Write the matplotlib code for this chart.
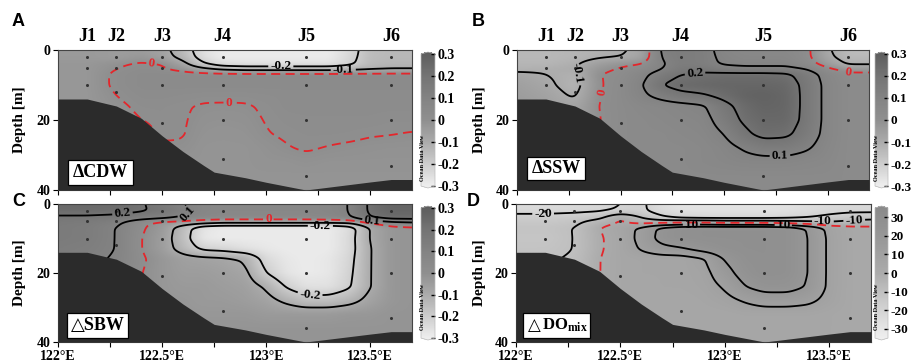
import numpy as np
import matplotlib
matplotlib.use("Agg")
import matplotlib.pyplot as plt
from matplotlib.colors import LinearSegmentedColormap, Normalize
from matplotlib.cm import ScalarMappable
from matplotlib.patches import Rectangle

plt.rcParams['font.family'] = ['Liberation Serif', 'DejaVu Serif']
plt.rcParams['font.weight'] = 'bold'
plt.rcParams['mathtext.fontset'] = 'custom'
plt.rcParams['mathtext.rm'] = 'Liberation Serif:bold'
plt.rcParams['mathtext.it'] = 'Liberation Serif:bold'
plt.rcParams['mathtext.bf'] = 'Liberation Serif:bold'

# ---------------- data ----------------
stations = ['J1', 'J2', 'J3', 'J4', 'J5', 'J6']
station_lon = [122.14, 122.28, 122.50, 122.79, 123.19, 123.60]
sample_depths = [[2, 5, 10], [2, 5, 12], [2, 5, 10, 21], [2, 10, 20, 31],
                 [2, 10, 20, 36], [2, 10, 20, 33]]

bathy_lon = [122.0, 122.14, 122.28, 122.4, 122.5, 122.6, 122.7, 122.75, 122.9, 123.0, 123.19, 123.5, 123.6, 123.7]
bathy_depth = [14, 14, 16, 19.5, 24.5, 29, 33, 34.9, 36.5, 37.8, 40, 37.7, 37, 37]

grid_lon = [122.0, 122.14, 122.28, 122.4, 122.5, 122.6, 122.7, 122.79, 122.9,
            123.0, 123.1, 123.19, 123.3, 123.4, 123.5, 123.6, 123.7]
grid_depth = [0, 2, 4, 5.5, 7, 10, 13, 16, 20, 24, 28, 32, 36, 40]

cdw = [
    [-0.04, -0.04, -0.05, -0.05, -0.07, -0.15, -0.26, -0.29, -0.29, -0.29, -0.29, -0.29, -0.29, -0.24, -0.15, -0.14, -0.14],
    [-0.04, -0.04, -0.05, -0.03, -0.06, -0.13, -0.25, -0.29, -0.29, -0.29, -0.29, -0.29, -0.29, -0.23, -0.15, -0.14, -0.14],
    [-0.03, -0.03, -0.01, 0.01, 0.00, -0.07, -0.19, -0.25, -0.26, -0.26, -0.26, -0.26, -0.26, -0.22, -0.14, -0.13, -0.13],
    [-0.03, -0.03, 0.00, 0.02, 0.01, -0.02, -0.07, -0.11, -0.13, -0.13, -0.13, -0.13, -0.13, -0.12, -0.11, -0.10, -0.10],
    [-0.03, -0.03, 0.01, 0.03, 0.03, 0.03, 0.03, 0.03, 0.03, 0.03, 0.03, 0.03, 0.03, 0.03, 0.03, 0.03, 0.03],
    [-0.03, -0.03, 0.01, 0.03, 0.03, 0.03, 0.03, 0.03, 0.03, 0.03, 0.03, 0.03, 0.03, 0.03, 0.03, 0.03, 0.03],
    [-0.03, -0.03, 0.00, 0.02, 0.02, 0.015, 0.01, 0.01, 0.01, 0.015, 0.02, 0.02, 0.02, 0.02, 0.02, 0.02, 0.02],
    [-0.03, -0.03, -0.01, 0.01, 0.01, 0.004, -0.004, -0.005, -0.004, 0.006, 0.02, 0.02, 0.02, 0.02, 0.02, 0.02, 0.02],
    [-0.03, -0.03, -0.02, 0.00, 0.01, 0.003, -0.01, -0.012, -0.01, 0.002, 0.012, 0.015, 0.015, 0.015, 0.015, 0.01, 0.01],
    [-0.03, -0.03, -0.03, -0.02, 0.01, 0.002, -0.015, -0.018, -0.015, -0.002, 0.005, 0.01, 0.01, 0.008, 0.003, 0.001, -0.002],
    [-0.03, -0.03, -0.03, -0.02, -0.01, -0.005, -0.02, -0.02, -0.02, -0.012, -0.002, 0.004, -0.002, -0.006, -0.01, -0.012, -0.012],
    [-0.03, -0.03, -0.03, -0.02, -0.02, -0.02, -0.02, -0.02, -0.02, -0.015, -0.015, -0.01, -0.015, -0.015, -0.015, -0.015, -0.015],
    [-0.03, -0.03, -0.03, -0.02, -0.02, -0.02, -0.02, -0.02, -0.02, -0.02, -0.02, -0.02, -0.02, -0.02, -0.02, -0.02, -0.02],
    [-0.03, -0.03, -0.03, -0.02, -0.02, -0.02, -0.02, -0.02, -0.02, -0.02, -0.02, -0.02, -0.02, -0.02, -0.02, -0.02, -0.02],
]

ssw = [
    [-0.14, -0.14, -0.13, -0.12, -0.11, -0.08, 0.12, 0.14, 0.13, 0.07, 0.05, 0.05, 0.05, 0.02, -0.09, -0.15, -0.15],
    [-0.14, -0.14, -0.13, -0.11, -0.10, -0.07, 0.11, 0.14, 0.13, 0.08, 0.06, 0.06, 0.06, 0.02, -0.08, -0.14, -0.14],
    [-0.13, -0.13, -0.11, -0.05, -0.02, 0.00, 0.09, 0.14, 0.13, 0.09, 0.08, 0.08, 0.08, 0.04, -0.04, -0.11, -0.11],
    [-0.12, -0.11, -0.10, -0.02, 0.01, 0.04, 0.10, 0.16, 0.17, 0.14, 0.13, 0.13, 0.13, 0.10, 0.02, -0.03, -0.03],
    [-0.08, -0.10, -0.12, 0.00, 0.02, 0.07, 0.15, 0.20, 0.22, 0.23, 0.23, 0.23, 0.22, 0.15, 0.06, 0.02, 0.02],
    [-0.06, -0.085, -0.13, -0.005, 0.03, 0.09, 0.20, 0.24, 0.25, 0.26, 0.26, 0.26, 0.25, 0.17, 0.07, 0.03, 0.03],
    [-0.05, -0.07, -0.11, 0.00, 0.03, 0.08, 0.13, 0.17, 0.19, 0.23, 0.27, 0.28, 0.26, 0.17, 0.07, 0.03, 0.03],
    [-0.04, -0.06, -0.08, 0.005, 0.03, 0.05, 0.06, 0.07, 0.09, 0.17, 0.24, 0.27, 0.26, 0.17, 0.07, 0.03, 0.03],
    [-0.04, -0.05, -0.07, 0.00, 0.03, 0.04, 0.05, 0.06, 0.07, 0.14, 0.22, 0.25, 0.25, 0.17, 0.07, 0.03, 0.03],
    [-0.03, -0.04, -0.05, 0.01, 0.03, 0.04, 0.04, 0.05, 0.06, 0.10, 0.18, 0.23, 0.22, 0.15, 0.07, 0.03, 0.03],
    [-0.02, -0.03, -0.03, 0.02, 0.03, 0.04, 0.04, 0.04, 0.05, 0.07, 0.11, 0.14, 0.14, 0.11, 0.06, 0.03, 0.03],
    [0.00, 0.00, 0.01, 0.03, 0.04, 0.04, 0.04, 0.04, 0.05, 0.06, 0.07, 0.07, 0.07, 0.06, 0.05, 0.03, 0.03],
    [0.03, 0.03, 0.03, 0.04, 0.04, 0.04, 0.04, 0.04, 0.04, 0.04, 0.04, 0.04, 0.04, 0.04, 0.04, 0.03, 0.03],
    [0.03, 0.03, 0.03, 0.04, 0.04, 0.04, 0.04, 0.04, 0.04, 0.04, 0.04, 0.04, 0.04, 0.04, 0.04, 0.03, 0.03],
]

sbw = [
    [0.25, 0.25, 0.24, 0.21, 0.16, 0.10, 0.07, 0.06, 0.06, 0.06, 0.06, 0.06, 0.07, 0.10, 0.22, 0.27, 0.27],
    [0.24, 0.24, 0.23, 0.21, 0.18, 0.12, 0.07, 0.06, 0.06, 0.06, 0.06, 0.06, 0.07, 0.10, 0.22, 0.26, 0.26],
    [0.18, 0.18, 0.17, 0.14, 0.12, 0.09, 0.06, 0.05, 0.05, 0.05, 0.05, 0.05, 0.06, 0.09, 0.20, 0.24, 0.24],
    [0.16, 0.15, 0.12, 0.02, -0.03, -0.05, -0.08, -0.10, -0.10, -0.10, -0.10, -0.10, -0.10, -0.10, 0.00, 0.06, 0.08],
    [0.15, 0.14, 0.10, 0.01, -0.04, -0.15, -0.27, -0.29, -0.29, -0.29, -0.29, -0.29, -0.29, -0.25, -0.09, -0.03, -0.02],
    [0.15, 0.14, 0.10, 0.00, -0.05, -0.16, -0.28, -0.29, -0.29, -0.29, -0.29, -0.29, -0.29, -0.24, -0.09, -0.03, -0.02],
    [0.14, 0.13, 0.10, 0.00, -0.05, -0.14, -0.22, -0.23, -0.26, -0.28, -0.29, -0.29, -0.29, -0.24, -0.10, -0.03, -0.02],
    [0.13, 0.12, 0.09, 0.01, -0.03, -0.06, -0.07, -0.08, -0.11, -0.24, -0.28, -0.29, -0.28, -0.23, -0.10, -0.03, -0.02],
    [0.12, 0.11, 0.08, 0.00, -0.03, -0.05, -0.05, -0.06, -0.08, -0.20, -0.27, -0.29, -0.28, -0.22, -0.10, -0.03, -0.02],
    [0.10, 0.10, 0.06, 0.00, -0.03, -0.04, -0.04, -0.05, -0.06, -0.11, -0.21, -0.26, -0.26, -0.21, -0.10, -0.03, -0.02],
    [0.08, 0.08, 0.05, -0.01, -0.03, -0.03, -0.04, -0.04, -0.05, -0.07, -0.12, -0.16, -0.16, -0.13, -0.07, -0.03, -0.02],
    [0.06, 0.06, 0.04, -0.01, -0.03, -0.03, -0.03, -0.03, -0.03, -0.04, -0.04, -0.04, -0.04, -0.03, -0.03, -0.02, -0.02],
    [0.05, 0.05, 0.03, -0.01, -0.02, -0.02, -0.02, -0.02, -0.02, -0.02, -0.02, -0.02, -0.02, -0.02, -0.02, -0.02, -0.02],
    [0.05, 0.05, 0.03, -0.01, -0.02, -0.02, -0.02, -0.02, -0.02, -0.02, -0.02, -0.02, -0.02, -0.02, -0.02, -0.02, -0.02],
]

domix = [
    [-24, -24, -23, -22, -20, -18, -26, -29, -29, -29, -29, -29, -28, -26, -24, -23, -23],
    [-23, -23, -22, -21, -19, -18, -25, -28, -28, -28, -28, -28, -27, -25, -23, -22, -22],
    [-16, -16, -15, -12, 1, -10, -18, -22, -23, -23, -23, -23, -22, -20, -17, -14, -13],
    [-14, -14, -12, -4, 1, -2, 0, 2, 2, 0, 0, 0, -2, -5, -8, -6, -4],
    [-12, -12, -10, 0, 5, 12, 23, 27, 28, 28, 28, 28, 27, 19, 7, 3, 2],
    [-13, -13, -10, -1, 4, 13, 24, 27, 28, 28, 28, 28, 27, 20, 8, 3, 2],
    [-12, -12, -10, -1, 4, 11, 17, 19, 24, 27, 28, 28, 27, 20, 8, 3, 2],
    [-11, -11, -9, 0, 4, 5, 5, 5, 9, 21, 27, 28, 27, 20, 8, 3, 2],
    [-10, -10, -8, 0, 4, 5, 5, 5, 7, 16, 25, 28, 27, 20, 8, 3, 2],
    [-9, -9, -7, 1, 4, 4, 5, 5, 6, 11, 20, 24, 24, 19, 8, 3, 2],
    [-8, -8, -6, 2, 4, 4, 4, 4, 5, 7, 11, 14, 14, 12, 7, 3, 2],
    [-6, -6, -4, 2, 4, 4, 4, 4, 4, 4, 5, 5, 5, 5, 4, 3, 2],
    [-6, -6, -4, 2, 4, 4, 4, 4, 4, 4, 4, 4, 4, 4, 4, 3, 2],
    [-6, -6, -4, 2, 4, 4, 4, 4, 4, 4, 4, 4, 4, 4, 4, 3, 2],
]

cbar_ticks_abc = [-0.3, -0.2, -0.1, 0, 0.1, 0.2, 0.3]
cbar_labels_abc = ['-0.3', '-0.2', '-0.1', '0', '0.1', '0.2', '0.3']
cbar_ticks_d = [-30, -20, -10, 0, 10, 20, 30]
cbar_labels_d = ['-30', '-20', '-10', '0', '10', '20', '30']
xtick_values = [122.0, 122.25, 122.5, 122.75, 123.0, 123.25, 123.5]
xtick_labels = ['122°E', '', '122.5°E', '', '123°E', '', '123.5°E']
ytick_values = [0, 20, 40]

# ---------------- helpers ----------------
flon = np.linspace(122.0, 123.7, 341)
fdep = np.linspace(0, 40, 401)


def upsample(grid):
    g = np.asarray(grid, float)
    tmp = np.array([np.interp(flon, grid_lon, row) for row in g])
    out = np.array([np.interp(fdep, grid_depth, tmp[:, j]) for j in range(tmp.shape[1])]).T
    return out


def blur(a, sx, sy):
    def kern(s):
        r = int(3 * s) + 1
        x = np.arange(-r, r + 1)
        w = np.exp(-0.5 * (x / s) ** 2)
        return w / w.sum(), r
    kx, rx = kern(sx)
    a = np.pad(a, ((0, 0), (rx, rx)), mode='edge')
    a = np.apply_along_axis(lambda r: np.convolve(r, kx, mode='valid'), 1, a)
    ky, ry = kern(sy)
    a = np.pad(a, ((ry, ry), (0, 0)), mode='edge')
    a = np.apply_along_axis(lambda c: np.convolve(c, ky, mode='valid'), 0, a)
    return a


cmap_abc = LinearSegmentedColormap.from_list('odv_abc', [
    (0.0, '#eeeeee'), (1 / 6, '#cdcdcd'), (2 / 6, '#ababab'), (0.5, '#8f8f8f'),
    (4 / 6, '#838383'), (5 / 6, '#747474'), (1.0, '#5e5e5e')])
cmap_d = LinearSegmentedColormap.from_list('odv_d', [
    (0.0, '#efefef'), (0.25, '#cfcfcf'), (0.5, '#ababab'), (0.75, '#999999'), (1.0, '#8a8a8a')])

W, H = 914, 363
fig = plt.figure(figsize=(W / 100, H / 100), dpi=100)


def px_axes(l, t, r, b):
    return fig.add_axes([l / W, 1 - b / H, (r - l) / W, (b - t) / H])


def px_box(l, t, r, b):
    fig.add_artist(Rectangle((l / W, 1 - b / H), (r - l) / W, (b - t) / H, transform=fig.transFigure,
                             fc='white', ec='black', lw=0.9, zorder=5))


panels = [
    dict(grid=cdw, ax=(58, 50, 412, 190), cb=(421, 52, 435, 188), cmap=cmap_abc, vmin=-0.3, vmax=0.3,
         levels=[-0.2, -0.1], ticks=cbar_ticks_abc, tlabels=cbar_labels_abc, cbfs=10,
         blab=[(123.07, 4.6), (123.37, 5.8)], rlab=[(122.45, 3.6), (122.82, 15.6)],
         legend='ΔCDW', box=(68, 160, 133, 185), letter='A', lxy=(12, 22), jl=True, xl=False, ylx=20,
         odv=(423, 158)),
    dict(grid=ssw, ax=(517, 50, 869, 190), cb=(875, 52, 888, 188), cmap=cmap_abc, vmin=-0.3, vmax=0.3,
         levels=[-0.1, 0.1, 0.2], ticks=cbar_ticks_abc, tlabels=cbar_labels_abc, cbfs=9.5,
         blab=[(122.26, 8.0), (122.86, 6.8), (123.27, 30.4)], rlab=[(122.41, 12.0), (123.6, 6.4)],
         legend='ΔSSW', box=(527, 157, 585, 180), letter='B', lxy=(472, 22), jl=True, xl=False, ylx=479,
         odv=(877, 158)),
    dict(grid=sbw, ax=(58, 204, 412, 342), cb=(421, 206, 435, 340), cmap=cmap_abc, vmin=-0.3, vmax=0.3,
         levels=[-0.2, -0.1, 0.1, 0.2], ticks=cbar_ticks_abc, tlabels=cbar_labels_abc, cbfs=10,
         blab=[(122.31, 3.0), (122.63, 3.6), (123.26, 6.0), (123.51, 5.0), (123.21, 26.4)], rlab=[(123.01, 5.3)],
         legend='△SBW', box=(67, 313, 128, 338), letter='C', lxy=(12, 201), jl=False, xl=True, ylx=20,
         odv=(423, 307)),
    dict(grid=domix, ax=(516, 204, 871, 342), cb=(875, 206, 888, 340), cmap=cmap_d, vmin=-35, vmax=35,
         levels=[-20, -10, 10, 20], ticks=cbar_ticks_d, tlabels=cbar_labels_d, cbfs=9.5,
         blab=[(122.13, 3.8), (122.84, 5.6), (123.28, 5.6), (123.47, 4.3), (123.62, 5.1)], rlab=[],
         legend=None, box=(523, 313, 590, 338), letter='D', lxy=(467, 201), jl=False, xl=True,
         ylx=479, odv=(877, 307)),
]

for p in panels:
    ax = px_axes(*p['ax'])
    F = blur(upsample(p['grid']), 4, 5)
    ax.imshow(F, extent=[flon[0], flon[-1], fdep[-1], fdep[0]], origin='upper', aspect='auto',
              cmap=p['cmap'], vmin=p['vmin'], vmax=p['vmax'], interpolation='bilinear', zorder=0)
    cs = ax.contour(flon, fdep, F, levels=p['levels'], colors='black', linewidths=1.3, zorder=2,
                    negative_linestyles='solid')
    cz = ax.contour(flon, fdep, F, levels=[0], colors='#e4262b', linewidths=1.3,
                    linestyles=[(0, (5, 3))], zorder=2)
    scale = p['vmax'] >= 1
    fmt = (lambda v: f'{v:.0f}') if scale else (lambda v: '0' if abs(v) < 1e-9 else f'{v:.1f}')
    if p['blab']:
        tx = ax.clabel(cs, manual=p['blab'], fmt=fmt, fontsize=9.5, inline=True, inline_spacing=2)
        for t in tx:
            t.set_fontweight('bold')
            t.set_zorder(5)
    if p['rlab']:
        tx = ax.clabel(cz, manual=p['rlab'], fmt=fmt, fontsize=9.5, inline=True, inline_spacing=2,
                       colors='#e4262b')
        for t in tx:
            t.set_fontweight('bold')
            t.set_zorder(5)
    ax.fill_between(bathy_lon, bathy_depth, 40, color='#2b2b2b', zorder=3, lw=0)
    for lon, deps in zip(station_lon, sample_depths):
        ax.plot([lon] * len(deps), deps, 'o', ms=2.2, color='#333333', zorder=4, mew=0)
    ax.set_xlim(122.0, 123.7)
    ax.set_ylim(40, 0)
    ax.set_xticks(xtick_values)
    ax.set_xticklabels(xtick_labels if p['xl'] else [''] * len(xtick_values), fontsize=10, fontweight='bold')
    ax.set_yticks(ytick_values)
    ax.set_yticklabels([str(v) for v in ytick_values], fontsize=10, fontweight='bold')
    ax.tick_params(direction='out', length=3.5, width=0.8, pad=2)
    for s in ax.spines.values():
        s.set_linewidth(0.8)
        s.set_color('#444444')

    bl, bt, br, bb = p['box']
    px_box(bl, bt, br, bb)
    cy = 1 - (bt + bb) / 2 / H
    if p['legend'] is not None:
        fig.text((bl + br) / 2 / W, cy, p['legend'], ha='center', va='center', fontsize=13,
                 fontweight='bold', zorder=6)
    else:
        fig.text((bl + 11) / W, cy, '△', ha='center', va='center', fontsize=12, fontweight='bold',
                 family=['DejaVu Serif', 'DejaVu Sans'], zorder=6)
        fig.text((bl + 19) / W, cy, 'DO$_{\\mathrm{mix}}$', ha='left', va='center', fontsize=12,
                 fontweight='bold', zorder=6)

    if p['jl']:
        for name, lon in zip(stations, station_lon):
            ax.text(lon, -1.3, name, ha='center', va='bottom', fontsize=13, fontweight='bold', clip_on=False)
    l, t, r, b = p['ax']
    fig.text(p['ylx'] / W, 1 - (t + b) / 2 / H, 'Depth [m]', rotation=90, ha='center', va='center',
             fontsize=11, fontweight='bold')
    fig.text(p['lxy'][0] / W, 1 - p['lxy'][1] / H, p['letter'], ha='left', va='center',
             fontsize=13, fontweight='bold', family=['Liberation Sans', 'DejaVu Sans'])

    cax = px_axes(*p['cb'])
    sm = ScalarMappable(norm=Normalize(p['vmin'], p['vmax']), cmap=p['cmap'])
    cb = fig.colorbar(sm, cax=cax, extend='both', extendfrac=0.015)
    cb.set_ticks(p['ticks'])
    cb.set_ticklabels(p['tlabels'])
    cb.ax.tick_params(direction='in', length=3, width=1, color='black', labelsize=p['cbfs'], pad=2)
    for t in cb.ax.get_yticklabels():
        t.set_fontweight('bold')
    cb.outline.set_linewidth(0.5)
    cb.outline.set_edgecolor('#bbbbbb')
    fig.text(p['odv'][0] / W, 1 - p['odv'][1] / H, 'Ocean Data View', rotation=90, ha='center', va='center',
             fontsize=4.5, fontweight='bold')

fig.savefig('out.png', dpi=100)
